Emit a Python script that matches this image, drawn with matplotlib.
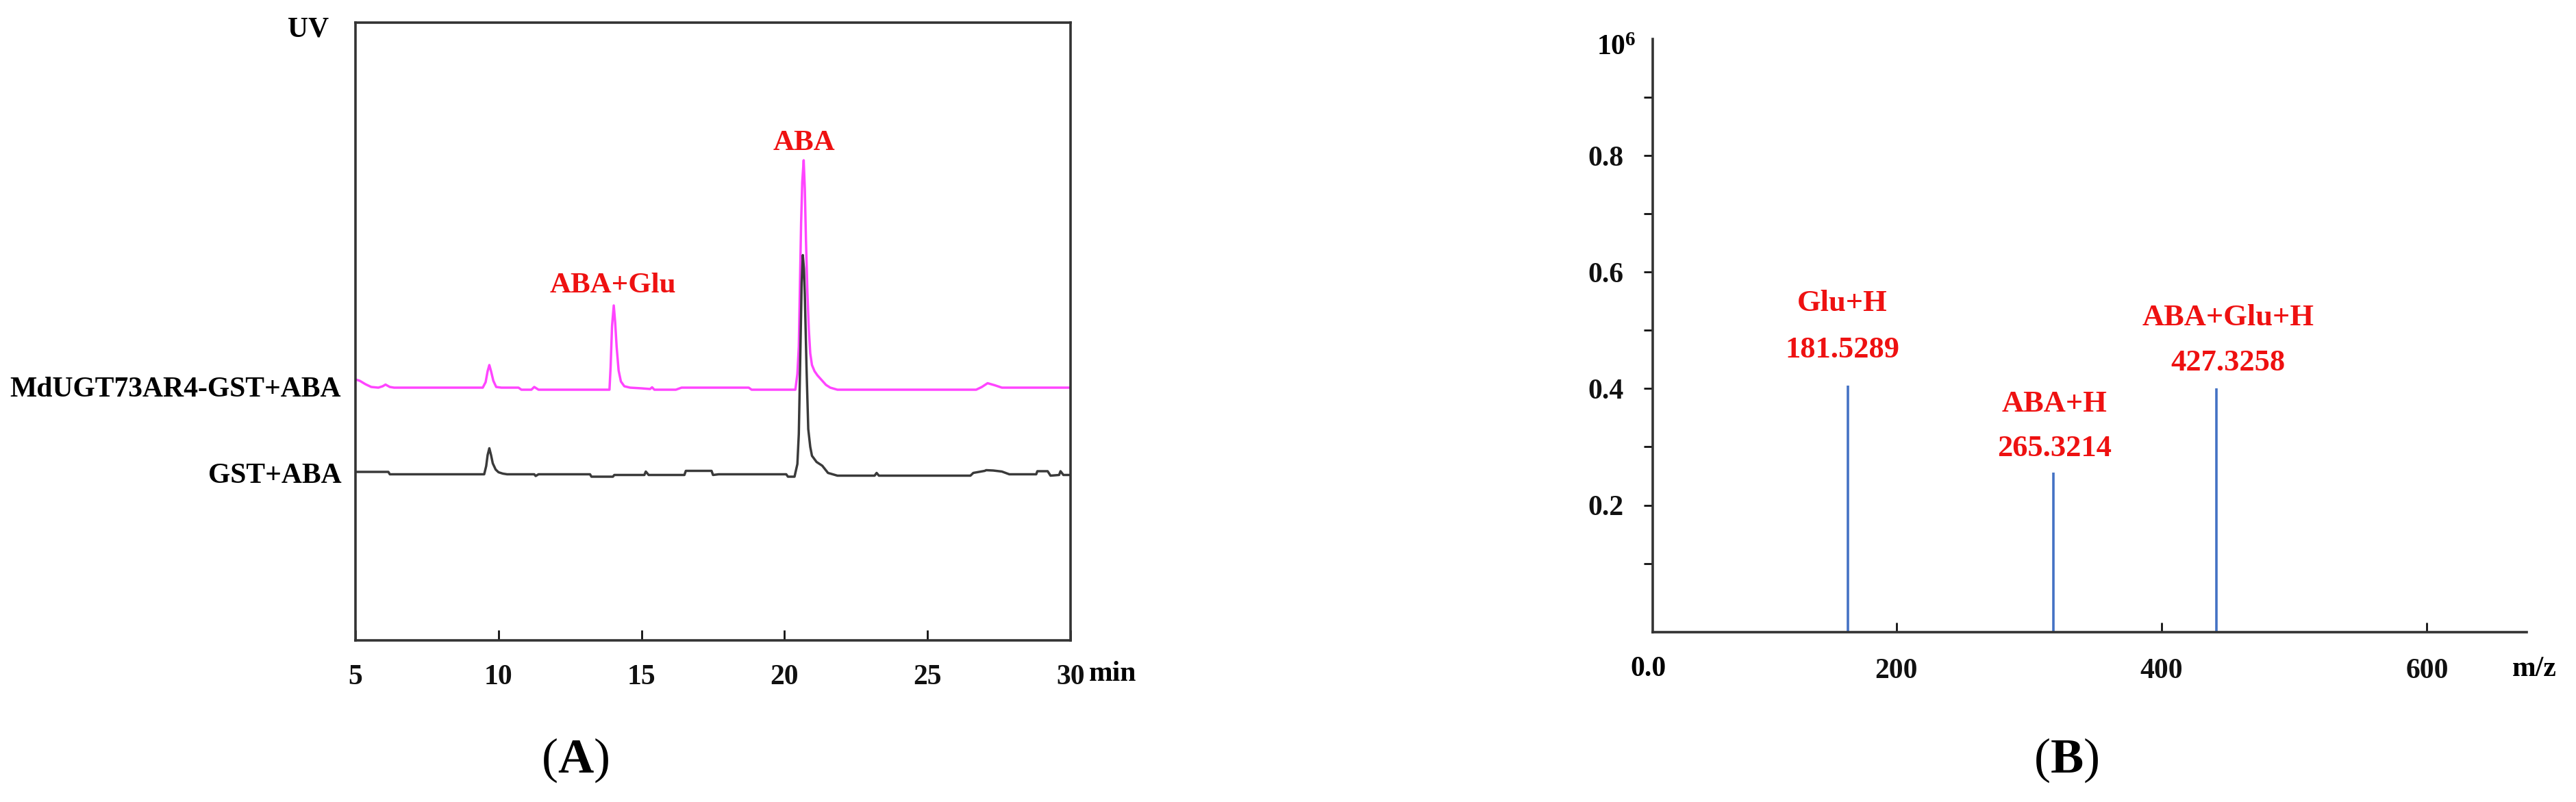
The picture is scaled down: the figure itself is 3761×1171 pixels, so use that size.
import numpy as np
import matplotlib
matplotlib.use('Agg')
import matplotlib.pyplot as plt

plt.rcParams['font.family'] = ['Liberation Serif', 'DejaVu Serif']
plt.rcParams['font.weight'] = 'bold'
plt.rcParams['mathtext.fontset'] = 'custom'
plt.rcParams['mathtext.rm'] = 'Liberation Serif'
plt.rcParams['mathtext.bf'] = 'Liberation Serif:bold'

# ---- (A) HPLC traces, time in min, signal relative to each baseline ----
mag_time = [5.0, 5.15, 5.35, 5.55, 5.8, 5.95, 6.05, 6.2, 6.35, 9.45, 9.55, 9.62,
            9.68, 9.74, 9.82, 9.92, 10.1, 10.7, 10.8, 11.15, 11.25, 11.4, 13.88,
            13.92, 13.97, 14.03, 14.08, 14.13, 14.2, 14.28, 14.4, 14.6, 15.0,
            15.3, 15.37, 15.45, 16.2, 16.4, 18.75, 18.85, 20.38, 20.45, 20.5,
            20.54, 20.58, 20.62, 20.67, 20.71, 20.75, 20.8, 20.85, 20.9, 20.96,
            21.05, 21.15, 21.3, 21.45, 21.6, 21.85, 26.7, 26.9, 27.1, 27.35,
            27.6, 30.0]
mag_signal = [12, 10, 5, 1, 0, 2, 4.5, 1, 0, 0, 8, 24,
              33, 24, 10, 1, 0, 0, -3, -3, 1, -3, -3,
              30, 90, 120, 95, 60, 25, 9, 2, 0, -1,
              -2, 0.5, -3, -3, 0, 0, -3, -3, 20, 60,
              150, 240, 300, 332, 290, 215, 140, 85, 50, 33,
              24, 18, 11, 4, 0, -3, -3, 1, 6.5, 3.5,
              0, 0]

gst_time = [5.0, 6.15, 6.2, 9.5, 9.57, 9.62, 9.68, 9.74, 9.8, 9.9, 10.0, 10.15,
            10.3, 11.25, 11.3, 11.4, 13.2, 13.25, 14.0, 14.05, 15.1, 15.15,
            15.25, 16.5, 16.55, 17.45, 17.5, 17.7, 20.06, 20.12, 20.35, 20.45,
            20.5, 20.56, 20.6, 20.64, 20.68, 20.71, 20.77, 20.83, 20.9, 20.96,
            21.12, 21.32, 21.52, 21.85, 23.15, 23.22, 23.3, 26.5, 26.6, 27.0,
            27.05, 27.3, 27.6, 27.86, 28.8, 28.84, 29.2, 29.3, 29.6, 29.65,
            29.75, 30.0]
gst_signal = [3.5, 3.5, 0, 0, 12, 28, 38, 28, 16, 7, 3, 1,
              0, 0, -2.5, 0, 0, -3.5, -3.5, -1, -1, 4,
              -1, -1, 5, 5, -1, 0, 0, -3.5, -3.5, 15,
              59, 191, 280, 320, 300, 262, 155, 66, 40, 27,
              18, 12.5, 2, -2, -2, 2, -2, -2, 2, 5,
              6, 5.5, 4, 0, 0, 4.5, 4.5, -2, -1, 4.5,
              -1, -1]

trace_names = ['MdUGT73AR4-GST+ABA', 'GST+ABA']
trace_offsets = [369, 242.5]
time_ticks = [5, 10, 15, 20, 25, 30]

# ---- (B) mass spectrum ----
mz_pos = [163.4, 318.5, 441.3]
mz_intensity = [0.405, 0.256, 0.400]
ion_names = ['Glu+H', 'ABA+H', 'ABA+Glu+H']
ion_mass = ['181.5289', '265.3214', '427.3258']
mz_ticks = [200, 400, 600]
int_ticks = [0.2, 0.4, 0.6, 0.8]
int_minor = [0.1, 0.3, 0.5, 0.7, 0.9]

RED = '#EE1111'
W, H = 3761, 1171

fig = plt.figure(figsize=(W / 100, H / 100), dpi=100)

# ---------------- panel A ----------------
axA = fig.add_axes([519 / W, 1 - 935 / H, (1563 - 519) / W, (935 - 33) / H])
axA.plot(mag_time, np.array(mag_signal) + trace_offsets[0], color='#FF45FF', lw=2.5)
axA.plot(gst_time, np.array(gst_signal) + trace_offsets[1], color='#3a3a3a', lw=2.5)
axA.set_xlim(5, 30)
axA.set_ylim(0, 902)
for sp in axA.spines.values():
    sp.set_linewidth(2.6)
    sp.set_color('#333333')
axA.set_yticks([])
axA.set_xticks(time_ticks)
axA.set_xticklabels([str(t) for t in time_ticks])
axA.tick_params(axis='x', direction='in', length=11, width=2, pad=25,
                labelsize=30, colors='#111111')
axA.annotate('min', xy=(30, 0), xycoords=('data', 'axes fraction'),
             xytext=(19, -35), textcoords='offset points',
             ha='left', va='center', fontsize=30)
for name, off in zip(trace_names, trace_offsets):
    axA.annotate(name, xy=(0, off), xycoords=('axes fraction', 'data'),
                 xytext=(-15, -2), textcoords='offset points',
                 ha='right', va='center', fontsize=30)
axA.text(20.68, 935 - 209, 'ABA', color=RED, fontsize=31, ha='center', va='center')
axA.text(14.0, 935 - 417, 'ABA+Glu', color=RED, fontsize=31, ha='center', va='center')
fig.text(450 / W, 1 - 43 / H, 'UV', fontsize=30, ha='center', va='center')
fig.text(840 / W, 1 - 1110 / H, r'($\mathbf{A}$)', fontsize=52, fontweight='normal',
         ha='center', va='center')

# ---------------- panel B ----------------
axB = fig.add_axes([2412.5 / W, 1 - 923 / H, (3688.6 - 2412.5) / W, (923 - 57) / H])
axB.set_xlim(15.9, 675)
axB.set_ylim(-0.018, 1.0)
base = axB.get_ylim()[0]
axB.vlines(mz_pos, base, mz_intensity, color='#4472C4', lw=2.6)
for sp in ['top', 'right']:
    axB.spines[sp].set_visible(False)
for sp in ['left', 'bottom']:
    axB.spines[sp].set_linewidth(2.6)
    axB.spines[sp].set_color('#333333')
axB.set_xticks(mz_ticks)
axB.set_xticklabels([str(t) for t in mz_ticks])
axB.set_yticks(int_ticks)
axB.set_yticklabels(['%.1f' % v for v in int_ticks])
axB.set_yticks(int_minor, minor=True)
axB.tick_params(axis='x', direction='in', length=10, width=2, pad=27,
                labelsize=30, colors='#111111')
axB.tick_params(axis='y', which='both', direction='out', length=9.5, width=2,
                pad=21, labelsize=30, colors='#111111')
axB.annotate('0.0', xy=(0, 0), xycoords='axes fraction', xytext=(-4, -39),
             textcoords='offset points', ha='center', va='center', fontsize=30)
axB.annotate('m/z', xy=(1, 0), xycoords='axes fraction', xytext=(-15, -39),
             textcoords='offset points', ha='left', va='center', fontsize=30)
axB.annotate(r'$\mathbf{10^6}$', xy=(0, 1), xycoords='axes fraction', xytext=(-17, -9),
             textcoords='offset points', ha='right', va='center', fontsize=30)

label_x = [159, 319, 450]
name_y = [0.546, 0.373, 0.522]
mass_y = [0.466, 0.297, 0.444]
for x, n, m, yn, ym in zip(label_x, ion_names, ion_mass, name_y, mass_y):
    axB.text(x, yn, n, color=RED, fontsize=32, ha='center', va='center')
    axB.text(x, ym, m, color=RED, fontsize=32, ha='center', va='center')

fig.text(3017 / W, 1 - 1110 / H, r'($\mathbf{B}$)', fontsize=52, fontweight='normal',
         ha='center', va='center')

fig.savefig('out.png', dpi=100, facecolor='white')
